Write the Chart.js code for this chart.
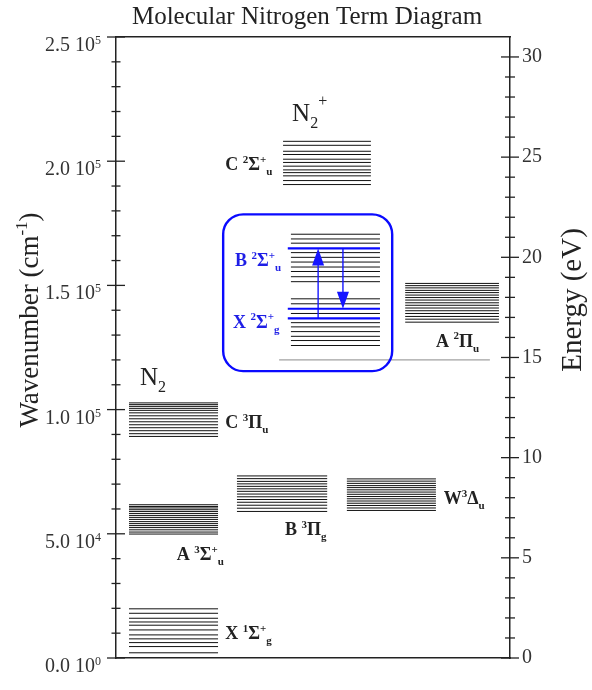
<!DOCTYPE html>
<html><head><meta charset="utf-8">
<script src="https://cdn.jsdelivr.net/npm/chart.js@4.4.1/dist/chart.umd.min.js"></script>
<style>html,body{margin:0;padding:0;background:#fff}canvas{display:block}</style>
</head><body>
<canvas id="c" width="592" height="690"></canvas>
<script>
// ---------- data ----------
const CM_PER_EV = 8065.54;
const WAVENUMBER_MAX = 250000;
const chartTitle = 'Molecular Nitrogen Term Diagram';
const leftTicks = [0, 50000, 100000, 150000, 200000, 250000];
const leftTickMantissa = ['0.0', '5.0', '1.0', '1.5', '2.0', '2.5'];
const leftTickExponent = ['0', '4', '5', '5', '5', '5'];
const rightTicks = [0, 5, 10, 15, 20, 25, 30];

// vibrational levels (cm^-1) per electronic state
const levelsX1Sg = [2100, 4600, 6200, 7700, 9300, 11300, 13200, 14500, 16000, 18000, 19800];
const levelsA3Su = [49900, 50700, 51600, 52500, 53300, 54100, 54900, 55800, 56600, 57400, 58200, 59000, 59700, 60400, 61000, 61700];
const levelsB3Pg = [59000, 60300, 61500, 62700, 63800, 64900, 66000, 67100, 68100, 69100, 70100, 71100, 72200, 73300];
const levelsW3Du = [59400, 60400, 61400, 62300, 63200, 64100, 65000, 65900, 66800, 67700, 68600, 69400, 70300, 71200, 72100];
const levelsC3Pu = [89200, 90300, 91500, 92700, 93900, 95100, 96300, 97500, 98700, 99700, 100500, 101300, 102000, 102700];
const levelsX2Sg = [125800, 127800, 129500, 131400, 133300, 135000, 138700, 142600, 144600];
const levelsA2Pu = [135200, 136400, 137500, 138700, 139800, 140900, 142000, 143000, 144100, 145100, 146100, 147100, 148000, 149000, 149900, 150800];
const levelsB2Su = [151500, 153500, 155600, 157400, 159400, 161300, 163200, 167000, 168700, 170600];
const levelsC2Su = [190600, 192200, 194100, 195400, 196500, 198000, 199500, 200800, 202700, 204000, 206400, 208000];
const levelsHighlighted = [136700, 140600, 164900]; // X v=0, X v=1, B v=0 (blue)
const thresholdLevel = [120000];

// horizontal span of each stack (x axis units 0..100)
const stackNames = ['X1Sg', 'A3Su', 'B3Pg', 'W3Du', 'C3Pu', 'X2Sg', 'A2Pu', 'B2Su', 'C2Su', 'blue', 'threshold'];
const stackFrom = [3.3, 3.3, 30.7, 58.6, 3.3, 44.4, 73.4, 44.4, 42.4, 43.6, 41.4];
const stackTo = [25.9, 25.9, 53.6, 81.2, 25.9, 67.0, 97.2, 67.0, 64.7, 67.0, 94.9];

// transitions (x, from, to)
const arrowX = [51.3, 57.6];
const arrowFrom = [136700, 164900];
const arrowTo = [164900, 140600];

// highlight box (x1, x2, y top, y bottom)
const boxX = [27.2, 70.1];
const boxY = [178600, 115500];

// state labels: anchor (x, wavenumber), parts
const labelX = [27.7, 30.2, 29.7, 81.2, 27.7, 42.9, 83.2, 15.4, 27.7];
const labelY = [196300, 157800, 133000, 125400, 92600, 49600, 62000, 39500, 7700];
const labelBlue = [false, true, true, false, false, false, false, false, false];
const labelParts = [
  [['C ', ''], ['2', 'sup'], ['Σ', ''], ['+', 'sup'], ['u', 'sub']],
  [['B ', ''], ['2', 'sup'], ['Σ', ''], ['+', 'sup'], ['u', 'sub']],
  [['X ', ''], ['2', 'sup'], ['Σ', ''], ['+', 'sup'], ['g', 'sub']],
  [['A ', ''], ['2', 'sup'], ['Π', ''], ['u', 'sub']],
  [['C ', ''], ['3', 'sup'], ['Π', ''], ['u', 'sub']],
  [['B ', ''], ['3', 'sup'], ['Π', ''], ['g', 'sub']],
  [['W', ''], ['3', 'sup'], ['Δ', ''], ['u', 'sub']],
  [['A ', ''], ['3', 'sup'], ['Σ', ''], ['+', 'sup'], ['u', 'sub']],
  [['X ', ''], ['1', 'sup'], ['Σ', ''], ['+', 'sup'], ['g', 'sub']]
];
const speciesX = [6.1, 44.7];
const speciesY = [110000, 216000];
const speciesParts = [
  [['N', ''], ['2', 'sub']],
  [['N', ''], ['2', 'sub'], ['+', 'supx']]
];

// ---------- build datasets ----------
function segs(levels, i) {
  const d = [];
  levels.forEach(v => {
    d.push({x: stackFrom[i], y: v});
    d.push({x: stackTo[i], y: v});
    d.push({x: (stackFrom[i] + stackTo[i]) / 2, y: null});
  });
  return d;
}
const stackLevels = [levelsX1Sg, levelsA3Su, levelsB3Pg, levelsW3Du, levelsC3Pu, levelsX2Sg, levelsA2Pu, levelsB2Su, levelsC2Su, levelsHighlighted, thresholdLevel];
const datasets = stackLevels.map((lv, i) => {
  const isBlue = stackNames[i] === 'blue';
  const isThr = stackNames[i] === 'threshold';
  return {
    label: stackNames[i],
    data: segs(lv, i),
    borderColor: isBlue ? '#0a0aff' : (isThr ? '#8a8a8a' : '#111'),
    borderWidth: isBlue ? 2.2 : 1,
    pointRadius: 0,
    spanGaps: false,
    tension: 0,
    order: isBlue ? 0 : 1
  };
});
arrowX.forEach((x, i) => {
  const dir = arrowTo[i] > arrowFrom[i] ? 1 : -1;
  datasets.push({
    label: 'arrow' + i,
    data: [{x: x, y: arrowFrom[i]}, {x: x, y: arrowTo[i] - dir * 5000}],
    borderColor: '#1515ff', borderWidth: 1.4, pointRadius: 0, order: 0
  });
});

const SERIF = '"Liberation Serif", "Times New Roman", serif';
const BLUE = '#1e1ee6';

function drawRich(ctx, x, y, parts, size, bold, measureOnly) {
  let cx = x;
  const w0 = bold ? 'bold ' : '';
  parts.forEach(([t, k]) => {
    const s = k ? Math.round(size * 0.62) : size;
    ctx.font = w0 + s + 'px ' + SERIF;
    let dy = 0, dx = 0;
    if (k === 'sup') dy = -size * 0.4;
    if (k === 'supx') dy = -size * 0.62;
    if (k === 'sub') { dy = size * 0.28; }
    if (!measureOnly) ctx.fillText(t, cx + dx, y + dy);
    cx += ctx.measureText(t).width + dx;
  });
  return cx - x;
}

const overlay = {
  id: 'overlay',
  afterDatasetsDraw(chart) {
    const ctx = chart.ctx;
    const sx = chart.scales.x, sy = chart.scales.y, se = chart.scales.y2;
    ctx.save();
    // highlight box
    const x1 = sx.getPixelForValue(boxX[0]), x2 = sx.getPixelForValue(boxX[1]);
    const y1 = sy.getPixelForValue(boxY[0]), y2 = sy.getPixelForValue(boxY[1]);
    ctx.strokeStyle = '#0a0aff'; ctx.lineWidth = 2.4;
    ctx.beginPath(); ctx.roundRect(x1, y1, x2 - x1, y2 - y1, 20); ctx.stroke();
    // arrow heads
    ctx.fillStyle = '#1515ff';
    arrowX.forEach((x, i) => {
      const px = sx.getPixelForValue(x);
      const tip = sy.getPixelForValue(arrowTo[i]);
      const dir = arrowTo[i] > arrowFrom[i] ? 1 : -1; // up = 1
      const base = tip + dir * 17;
      ctx.beginPath(); ctx.moveTo(px, tip); ctx.lineTo(px - 6, base); ctx.lineTo(px + 6, base); ctx.closePath(); ctx.fill();
    });
    // state labels
    ctx.textBaseline = 'alphabetic'; ctx.textAlign = 'left';
    labelParts.forEach((p, i) => {
      ctx.fillStyle = labelBlue[i] ? BLUE : '#222';
      drawRich(ctx, sx.getPixelForValue(labelX[i]), sy.getPixelForValue(labelY[i]), p, 18, true);
    });
    ctx.fillStyle = '#222';
    speciesParts.forEach((p, i) => {
      drawRich(ctx, sx.getPixelForValue(speciesX[i]), sy.getPixelForValue(speciesY[i]), p, 25, false);
    });
    // tick marks
    ctx.strokeStyle = '#222'; ctx.lineWidth = 1.3;
    const L = chart.chartArea.left, R = chart.chartArea.right;
    for (let v = 0; v <= WAVENUMBER_MAX; v += 10000) {
      const yy = sy.getPixelForValue(v);
      const h = v % 50000 === 0 ? 9 : 4.5;
      ctx.beginPath(); ctx.moveTo(L - h, yy); ctx.lineTo(L + h, yy); ctx.stroke();
    }
    for (let e = 0; e <= 30; e += 1) {
      const yy = se.getPixelForValue(e);
      const h = e % 5 === 0 ? 9 : 5;
      ctx.beginPath(); ctx.moveTo(R - h, yy); ctx.lineTo(R + h, yy); ctx.stroke();
    }
    // left tick labels
    ctx.fillStyle = '#333';
    leftTicks.forEach((v, i) => {
      const yy = sy.getPixelForValue(v) + 14;
      ctx.font = '20px ' + SERIF;
      const wm = ctx.measureText(leftTickMantissa[i] + ' 10').width;
      ctx.font = '12px ' + SERIF;
      const we = ctx.measureText(leftTickExponent[i]).width;
      const x0 = L - 15 - wm - we;
      ctx.font = '20px ' + SERIF;
      ctx.fillText(leftTickMantissa[i] + ' 10', x0, yy);
      ctx.font = '12px ' + SERIF;
      ctx.fillText(leftTickExponent[i], x0 + wm, yy - 7);
    });
    // title
    ctx.font = '25px ' + SERIF; ctx.textAlign = 'center'; ctx.fillStyle = '#222';
    ctx.fillText(chartTitle, 307, 24);
    // axis titles
    ctx.textAlign = 'left';
    const leftTitle = [['Wavenumber (cm', ''], ['-1', 'sup'], [')', '']];
    ctx.save();
    ctx.translate(38, 320); ctx.rotate(-Math.PI / 2);
    const wl = drawRich(ctx, 0, 0, leftTitle, 27, false, true);
    drawRich(ctx, -wl / 2, 0, leftTitle, 27, false);
    ctx.restore();
    ctx.save();
    ctx.translate(581, 300); ctx.rotate(-Math.PI / 2);
    ctx.font = '29px ' + SERIF; ctx.textAlign = 'center';
    ctx.fillText('Energy (eV)', 0, 0);
    ctx.restore();
    ctx.restore();
  }
};

new Chart(document.getElementById('c'), {
  type: 'line',
  data: {datasets},
  options: {
    responsive: false,
    animation: false,
    devicePixelRatio: 1,
    layout: {padding: {top: 37, bottom: 32, left: 0, right: 0}},
    plugins: {legend: {display: false}, tooltip: {enabled: false}, title: {display: false}},
    elements: {line: {borderCapStyle: 'butt'}},
    scales: {
      x: {type: 'linear', min: 0, max: 100, position: 'bottom',
          ticks: {display: false}, grid: {display: false, drawTicks: false},
          border: {display: true, color: '#222', width: 1.5},
          afterFit: s => { s.height = 0; }},
      x2: {type: 'linear', min: 0, max: 100, position: 'top',
          ticks: {display: false}, grid: {display: false, drawTicks: false},
          border: {display: true, color: '#222', width: 1.5},
          afterFit: s => { s.height = 0; }},
      y: {type: 'linear', min: 0, max: WAVENUMBER_MAX, position: 'left',
          ticks: {display: false}, grid: {display: false, drawTicks: false},
          border: {display: true, color: '#222', width: 1.5},
          afterFit: s => { s.width = 116; }},
      y2: {type: 'linear', min: 0, max: WAVENUMBER_MAX / CM_PER_EV, position: 'right',
          ticks: {stepSize: 5, includeBounds: false, padding: 12, color: '#333',
                  font: {family: SERIF, size: 20},
                  callback: v => (rightTicks.includes(v) ? String(v) : '')},
          grid: {display: false, drawTicks: false},
          border: {display: true, color: '#222', width: 1.5},
          afterFit: s => { s.width = 82; }}
    }
  },
  plugins: [overlay]
});
</script>
</body></html>
